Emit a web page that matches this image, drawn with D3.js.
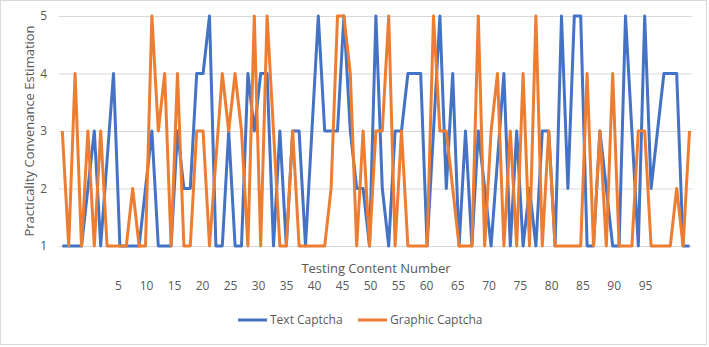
<!DOCTYPE html>
<html>
<head>
<meta charset="utf-8">
<script src="https://cdn.jsdelivr.net/npm/d3@7"></script>
<style>
  body { margin: 0; background: #fff; }
  text { font-family: "Open Sans", "Noto Sans", sans-serif; fill: #595959; }
</style>
</head>
<body>
<div id="chart"></div>
<script>
// values, one per testing content (1..99)
var textCaptcha = [
  1, 1, 1, 1, 2, 3, 1, 2.5, 4, 1,
  1, 1, 1, 2, 3, 1, 1, 1, 3, 2,
  2, 4, 4, 5, 1, 1, 3, 1, 1, 4,
  3, 4, 4, 1, 3, 1, 3, 3, 1, 3,
  5, 3, 3, 3, 5, 3, 2, 2, 1, 5,
  2, 1, 3, 3, 4, 4, 4, 1, 3, 5,
  2, 4, 1, 3, 1, 3, 2, 1, 2.5, 4,
  1, 3, 1, 2, 1, 3, 3, 1, 5, 2,
  5, 5, 1, 1, 3, 2, 1, 1, 5, 3,
  1, 5, 2, 3, 4, 4, 4, 1, 1
];
var graphicCaptcha = [
  3, 1, 4, 1, 3, 1, 3, 1, 1, 1,
  1, 2, 1, 1, 5, 3, 4, 1, 4, 1,
  1, 3, 3, 1, 2.5, 4, 3, 4, 3, 1,
  5, 1, 5, 3, 1, 1, 3, 1, 1, 1,
  1, 1, 2, 5, 5, 4, 1, 3, 1, 3,
  3, 5, 1, 3, 1, 1, 1, 1, 5, 3,
  3, 2, 1, 1, 1, 5, 1, 3, 4, 1,
  3, 1, 4, 1, 5, 1, 3, 1, 1, 1,
  1, 1, 4, 1, 3, 1, 4, 1, 1, 1,
  3, 3, 1, 1, 1, 1, 2, 1, 3
];
var testNumbers = textCaptcha.map(function(d, i) { return i + 1; });
var xTickLabels = [5, 10, 15, 20, 25, 30, 35, 40, 45, 50, 55, 60, 65, 70, 75, 80, 85, 90, 95];
var yTicks = [1, 2, 3, 4, 5];

var series = [
  { name: 'Text Captcha', values: textCaptcha, color: '#4472C4' },
  { name: 'Graphic Captcha', values: graphicCaptcha, color: '#ED7D31' }
];

(function(d3) {
  'use strict';

  var width = 709;
  var height = 347;

  var svg = d3.select('#chart')
    .append('svg')
    .attr('width', width)
    .attr('height', height);

  // outer chart border
  svg.append('rect')
    .attr('x', 0.5)
    .attr('y', 0.5)
    .attr('width', 706)
    .attr('height', 344)
    .attr('fill', '#fff')
    .attr('stroke', '#d9d9d9');

  var x = d3.scalePoint()
    .domain(testNumbers)
    .range([62.3, 689.5]);

  var y = d3.scaleLinear()
    .domain([1, 5])
    .range([246, 16]);

  // the category labels in the picture are not aligned with the points
  var xLabel = d3.scaleLinear()
    .domain([5, 60, 95])
    .range([118, 426, 645]);

  // gridlines + y labels
  var yAxis = d3.axisLeft(y)
    .tickValues(yTicks)
    .tickFormat(d3.format('d'))
    .tickSizeInner(-633)
    .tickSizeOuter(0)
    .tickPadding(12);

  var gy = svg.append('g')
    .attr('transform', 'translate(59,0)')
    .call(yAxis);
  gy.select('.domain').remove();
  gy.selectAll('line').attr('stroke', '#d9d9d9');
  gy.selectAll('text').attr('font-size', 12).attr('fill', '#595959');

  var xAxis = d3.axisBottom(xLabel)
    .tickValues(xTickLabels)
    .tickSize(0)
    .tickPadding(35);

  var gx = svg.append('g')
    .attr('transform', 'translate(0,246)')
    .call(xAxis);
  gx.select('.domain').remove();
  gx.selectAll('text').attr('font-size', 12).attr('fill', '#595959');

  var line = d3.line()
    .x(function(d, i) { return x(testNumbers[i]); })
    .y(function(d) { return y(d); });

  svg.selectAll('path.series')
    .data(series)
    .enter()
    .append('path')
    .attr('class', 'series')
    .attr('d', function(s) { return line(s.values); })
    .attr('fill', 'none')
    .attr('stroke', function(s) { return s.color; })
    .attr('stroke-width', 3)
    .attr('stroke-linejoin', 'round');

  // axis titles
  svg.append('text')
    .attr('x', 376)
    .attr('y', 273)
    .attr('text-anchor', 'middle')
    .attr('font-size', 13)
    .text('Testing Content Number');

  svg.append('text')
    .attr('transform', 'translate(34,131) rotate(-90)')
    .attr('text-anchor', 'middle')
    .attr('font-size', 13)
    .text('Practicality Convenance Estimation');

  // legend
  var legendX = [238, 358];
  var legend = svg.selectAll('g.legend')
    .data(series)
    .enter()
    .append('g')
    .attr('class', 'legend')
    .attr('transform', function(d, i) { return 'translate(' + legendX[i] + ',320)'; });

  legend.append('line')
    .attr('x1', 0)
    .attr('x2', 29)
    .attr('stroke', function(d) { return d.color; })
    .attr('stroke-width', 3);

  legend.append('text')
    .attr('x', 32)
    .attr('y', 4)
    .attr('font-size', 12)
    .text(function(d) { return d.name; });

})(window.d3);
</script>
</body>
</html>
